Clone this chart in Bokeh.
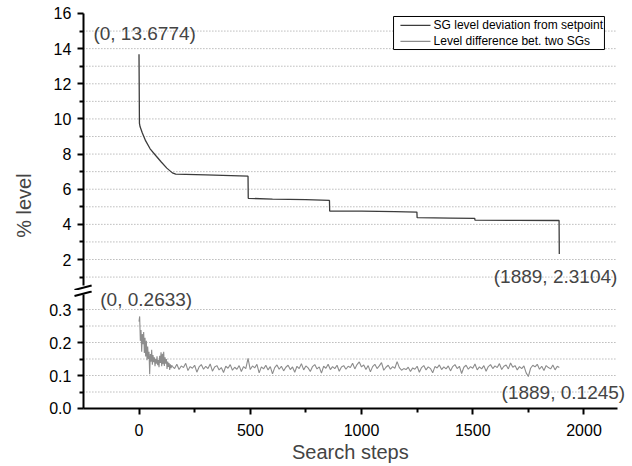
import math
from bokeh.plotting import figure
from bokeh.layouts import column
from bokeh.models import FixedTicker, PrintfTickFormatter, Label, Range1d
from bokeh.core.properties import value
from bokeh.embed import file_html
from bokeh.resources import INLINE

FONT = "Liberation Sans"

# ---------------- data ----------------
# SG level deviation from setpoint (% level) vs search step
dev_steps = [0, 2, 5, 15, 30, 50, 75, 100, 125, 150, 165, 300, 490, 491, 600, 750,
             856, 857, 1000, 1150, 1249, 1250, 1400, 1509, 1510, 1700, 1888, 1889]
dev_level = [13.6774, 9.75, 9.55, 9.2, 8.75, 8.3, 7.92, 7.55, 7.2, 6.93, 6.86, 6.82,
             6.74, 5.48, 5.44, 5.41, 5.36, 4.76, 4.75, 4.73, 4.70, 4.38, 4.36, 4.34,
             4.24, 4.23, 4.22, 2.3104]

# Level difference between two SGs (% level) vs search step
diff_steps = list(range(0, 148, 3)) + list(range(150, 1881, 10)) + [1889]
diff_level = [
    0.2633, 0.279, 0.205, 0.238, 0.172, 0.226, 0.195, 0.232, 0.168, 0.214,
    0.158, 0.205, 0.146, 0.188, 0.150, 0.172, 0.104, 0.165, 0.142, 0.178,
    0.133, 0.162, 0.140, 0.155, 0.128, 0.150, 0.136, 0.158, 0.131, 0.147,
    0.125, 0.160, 0.138, 0.170, 0.128, 0.166, 0.134, 0.172, 0.129, 0.155,
    0.136, 0.150, 0.120, 0.142, 0.126, 0.138, 0.117, 0.134, 0.122, 0.131,
    # 150 .. 1880 step 10
    0.128, 0.121, 0.134, 0.118, 0.129, 0.124, 0.137, 0.115, 0.127, 0.122,
    0.131, 0.110, 0.126, 0.133, 0.119, 0.128, 0.121, 0.135, 0.113, 0.126,
    0.130, 0.117, 0.124, 0.109, 0.128, 0.122, 0.133, 0.116, 0.125, 0.119,
    0.130, 0.112, 0.127, 0.121, 0.152, 0.118, 0.129, 0.123, 0.134, 0.108,
    0.126, 0.120, 0.131, 0.117, 0.127, 0.105, 0.124, 0.132, 0.119, 0.128,
    0.114, 0.125, 0.131, 0.118, 0.126, 0.110, 0.128, 0.121, 0.136, 0.117,
    0.129, 0.123, 0.112, 0.127, 0.133, 0.120, 0.126, 0.107, 0.128, 0.122,
    0.134, 0.118, 0.127, 0.121, 0.131, 0.113, 0.126, 0.130, 0.119, 0.128,
    0.124, 0.137, 0.120, 0.133, 0.141, 0.126, 0.132, 0.118, 0.130, 0.111,
    0.127, 0.134, 0.121, 0.129, 0.139, 0.116, 0.125, 0.131, 0.119, 0.127,
    0.122, 0.142, 0.124, 0.116, 0.121, 0.118, 0.125, 0.112, 0.123, 0.119,
    0.128, 0.110, 0.124, 0.130, 0.117, 0.126, 0.121, 0.108, 0.127, 0.123,
    0.132, 0.118, 0.126, 0.120, 0.129, 0.114, 0.127, 0.133, 0.121, 0.128,
    0.106, 0.125, 0.131, 0.119, 0.127, 0.122, 0.135, 0.117, 0.126, 0.120,
    0.130, 0.113, 0.127, 0.133, 0.121, 0.129, 0.124, 0.136, 0.118, 0.128,
    0.132, 0.120, 0.138, 0.125, 0.130, 0.117, 0.127, 0.121, 0.129, 0.108,
    0.097, 0.122, 0.131, 0.126, 0.134, 0.119, 0.128, 0.115, 0.130, 0.124,
    0.120, 0.132, 0.117, 0.128,
    0.1245,
]

series_names = ["SG level deviation from setpoint", "Level difference bet. two SGs"]

x_ticks = [0, 500, 1000, 1500, 2000]
x_minor = [250, 750, 1250, 1750]
top_ticks = [2, 4, 6, 8, 10, 12, 14, 16]
top_minor = [1, 3, 5, 7, 9, 11, 13, 15]
top_grid = [1, 2, 3, 4, 5, 6, 7, 8, 9, 10, 11, 12, 13, 14, 15]
bot_ticks = [0.0, 0.1, 0.2, 0.3]
bot_minor = [0.05, 0.15, 0.25]
bot_grid = [0.05, 0.1, 0.15, 0.2, 0.25, 0.3]

X_LO, X_HI = -250, 2150          # drawn extent of the x axis
TOP_LO, TOP_HI = 0.52, 16        # drawn extent of the upper y axis
BOT_LO, BOT_HI = 0.0, 0.345      # drawn extent of the lower y axis

DEV_COLOR = "#3c3c3c"
DIFF_COLOR = "#8c8c8c"
GRID_COLOR = "#9a9a9a"


def style_axis(ax, standoff):
    ax.axis_line_width = 2
    ax.axis_line_color = "black"
    ax.major_tick_line_width = 2
    ax.minor_tick_line_width = 2
    ax.major_tick_out = 6
    ax.major_tick_in = 0
    ax.minor_tick_out = 4
    ax.minor_tick_in = 0
    ax.major_label_text_font = FONT
    ax.major_label_text_font_size = "16px"
    ax.major_label_text_color = "black"
    ax.major_label_standoff = standoff


def add_grid(p, levels):
    p.segment(x0=[X_LO] * len(levels), x1=[X_HI] * len(levels), y0=levels, y1=levels,
              line_color=GRID_COLOR, line_dash="1 2", line_width=1)


def base_fig(h, yr):
    p = figure(frame_width=632, frame_height=h, x_range=Range1d(-622.5, 2218), y_range=yr,
               output_backend="svg", toolbar_location=None,
               min_border_left=0, min_border_right=0, min_border_top=0,
               min_border_bottom=0)
    p.outline_line_color = None
    p.xgrid.visible = False
    p.ygrid.visible = False
    return p


# ---------------- top panel ----------------
p_top = base_fig(290, Range1d(0.2358, 16.7398))
p_top.xaxis.visible = False
yax = p_top.yaxis[0]
style_axis(yax, 6)
yax.ticker = FixedTicker(ticks=top_ticks, minor_ticks=top_minor)
yax.fixed_location = X_LO
yax.bounds = (TOP_LO, TOP_HI)
add_grid(p_top, top_grid)

p_top.line(dev_steps, dev_level, line_color=DEV_COLOR, line_width=1.3)

# legend box (upper right of the top panel)
p_top.quad(left=[1144], right=[2092], top=[15.83], bottom=[13.95],
           fill_color="white", line_color="black", line_width=1)
leg_y = [15.32, 14.41]
p_top.segment(x0=[1175, 1175], x1=[1310, 1310], y0=leg_y, y1=leg_y,
              line_color=[DEV_COLOR, DIFF_COLOR], line_width=1.3)
p_top.text(x=[1324, 1324], y=leg_y, text=series_names, text_font=value(FONT),
           text_font_size="12px", text_baseline="middle", text_align="left",
           text_color="black")

p_top.add_layout(Label(x=-205, y=14.86, text="(0, 13.6774)", text_font=FONT,
                       text_font_size="19px", text_baseline="middle", text_align="left"))
p_top.add_layout(Label(x=2150, y=1.03, text="(1889, 2.3104)", text_font=FONT,
                       text_font_size="19px", text_baseline="middle", text_align="right"))
p_top.add_layout(Label(x=-519, y=5.07, text="% level", angle=math.pi / 2,
                       text_font=FONT, text_font_size="20px",
                       text_baseline="middle", text_align="center"))

# upper half of the axis-break mark
p_top.segment(x0=[-290], x1=[-213], y0=[0.2643], y1=[0.520],
              line_color="black", line_width=2)

# ---------------- bottom panel ----------------
p_bot = base_fig(176, Range1d(-0.17576, 0.35758))
yb = p_bot.yaxis[0]
xb = p_bot.xaxis[0]
style_axis(yb, 6)
style_axis(xb, 10)
yb.ticker = FixedTicker(ticks=bot_ticks, minor_ticks=bot_minor)
yb.formatter = PrintfTickFormatter(format="%.1f")
yb.fixed_location = X_LO
yb.bounds = (BOT_LO, BOT_HI)
xb.ticker = FixedTicker(ticks=x_ticks, minor_ticks=x_minor)
xb.fixed_location = 0
xb.bounds = (X_LO, X_HI)
add_grid(p_bot, bot_grid)

p_bot.line(diff_steps, diff_level, line_color=DIFF_COLOR, line_width=1.1)

p_bot.add_layout(Label(x=-174, y=0.330, text="(0, 0.2633)", text_font=FONT,
                       text_font_size="19px", text_baseline="middle", text_align="left"))
p_bot.add_layout(Label(x=2185, y=0.0485, text="(1889, 0.1245)", text_font=FONT,
                       text_font_size="19px", text_baseline="middle", text_align="right"))
p_bot.add_layout(Label(x=950, y=-0.1318, text="Search steps", text_font=FONT,
                       text_font_size="20px", text_baseline="middle",
                       text_align="center"))

# lower half of the axis-break mark
p_bot.segment(x0=[-290], x1=[-213], y0=[0.3409], y1=[0.3545],
              line_color="black", line_width=2)

layout = column(p_top, p_bot, spacing=0)
open("out.html", "w").write(file_html(layout, INLINE))
